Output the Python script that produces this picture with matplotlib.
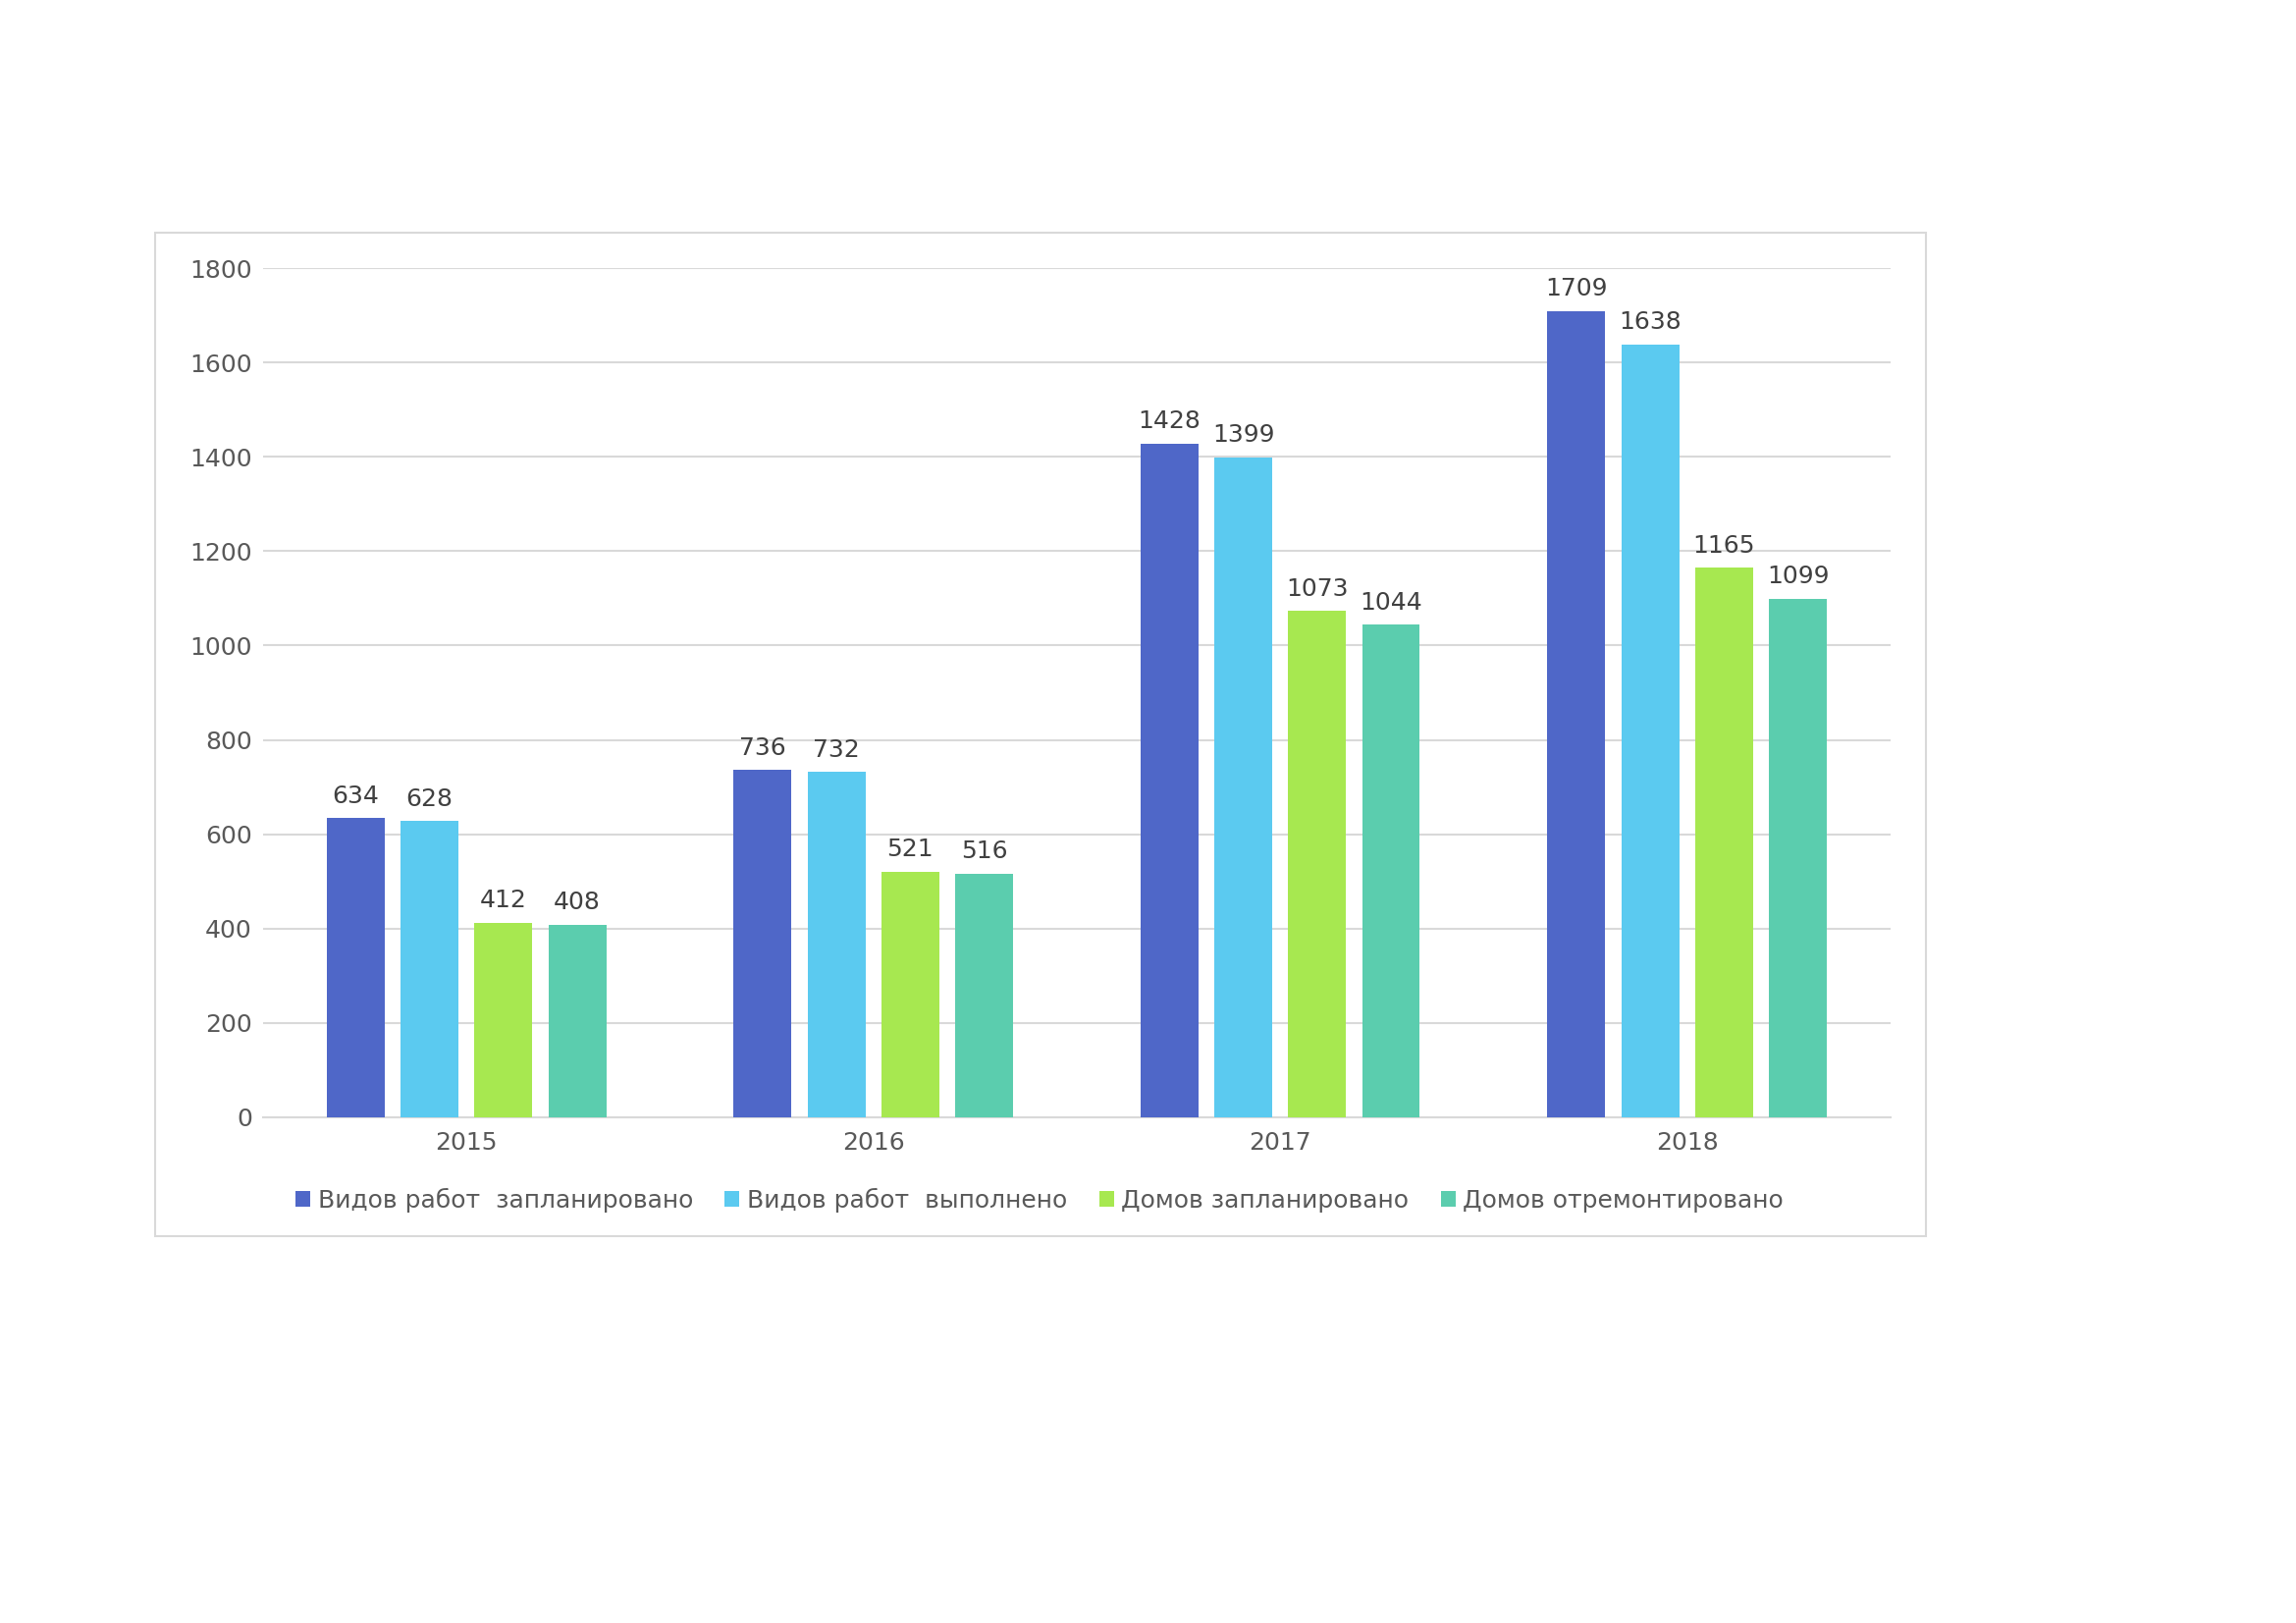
import matplotlib.pyplot as plt
import numpy as np
from matplotlib.patches import Rectangle

years = ["2015", "2016", "2017", "2018"]
series_names = [
    "Видов работ  запланировано",
    "Видов работ  выполнено",
    "Домов запланировано",
    "Домов отремонтировано",
]
works_planned = [634, 736, 1428, 1709]
works_done = [628, 732, 1399, 1638]
houses_planned = [412, 521, 1073, 1165]
houses_repaired = [408, 516, 1044, 1099]
colors = ["#4F67C8", "#5BCAF0", "#A7E850", "#5BCDAE"]

plt.rcParams["font.family"] = ["DejaVu Sans"]

fig = plt.figure(figsize=(23.39, 16.53), dpi=100)
ax = fig.add_axes([0.1146, 0.3116, 0.7088, 0.5232])

# outer chart frame
fig.patches.append(Rectangle((158 / 2339, 1 - 1259 / 1653), (1962 - 158) / 2339, (1259 - 237) / 1653,
                             transform=fig.transFigure, fill=False, edgecolor="#D9D9D9", linewidth=1.5))

x = np.arange(len(years))
width = 0.142
step = 0.1815
all_series = [works_planned, works_done, houses_planned, houses_repaired]
for i, (vals, name, c) in enumerate(zip(all_series, series_names, colors)):
    pos = x + (i - 1.5) * step
    bars = ax.bar(pos, vals, width, color=c, label=name, zorder=3)
    for b, v in zip(bars, vals):
        ax.text(b.get_x() + b.get_width() / 2, v + 22, str(v), ha="center", va="bottom",
                fontsize=18, color="#404040")

ax.set_xlim(-0.5, 3.5)
ax.set_ylim(0, 1800)
ax.set_yticks(range(0, 1801, 200))
ax.set_xticks(x)
ax.set_xticklabels(years)
ax.tick_params(axis="both", length=0, labelsize=18, labelcolor="#595959")
ax.tick_params(axis="y", pad=8)
ax.tick_params(axis="x", pad=10)
ax.grid(axis="y", color="#D9D9D9", linewidth=1.5, zorder=0)
for side in ["top", "right", "left"]:
    ax.spines[side].set_visible(False)
ax.spines["bottom"].set_color("#D9D9D9")
ax.spines["bottom"].set_linewidth(1.5)

leg = ax.legend(loc="center", bbox_to_anchor=(1059 / 2339, 1 - 1222 / 1653),
                bbox_transform=fig.transFigure, ncol=4, frameon=False, fontsize=18,
                handlelength=0.6, handleheight=0.6, handletextpad=0.3, columnspacing=1.3)
for t in leg.get_texts():
    t.set_color("#595959")

fig.savefig("out.png", dpi=100)
